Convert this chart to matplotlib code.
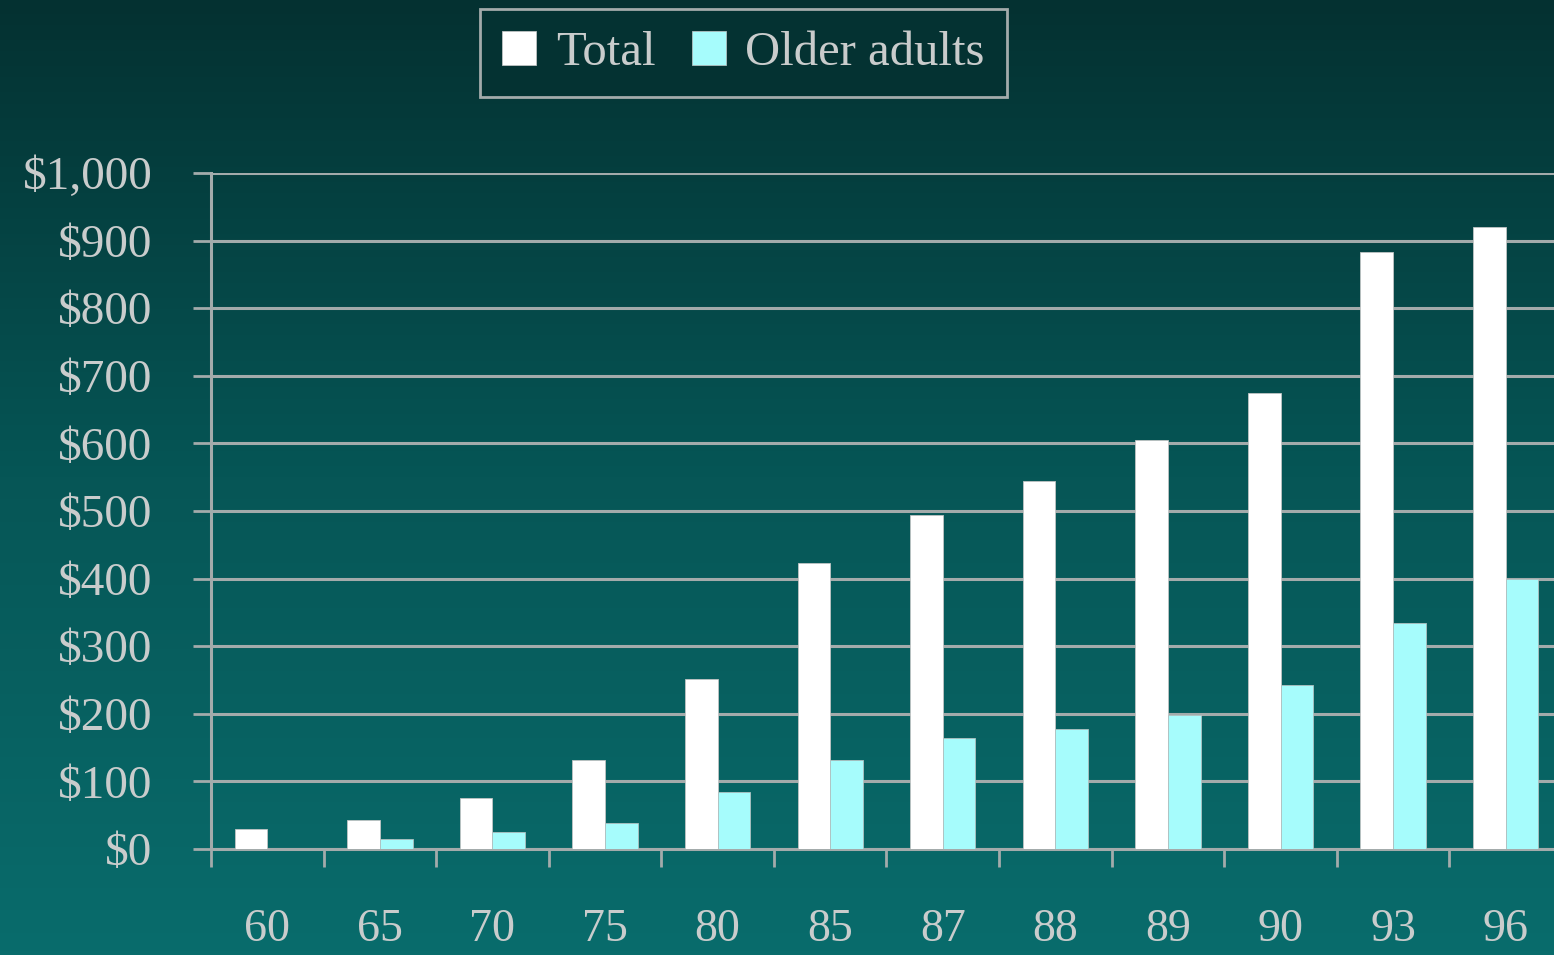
import matplotlib

matplotlib.use("Agg")
import matplotlib.pyplot as plt
import numpy as np
from matplotlib.colors import LinearSegmentedColormap
from matplotlib.ticker import FixedLocator

years = ["60", "65", "70", "75", "80", "85", "87", "88", "89", "90", "93", "96"]
total = [30, 43, 75, 132, 251, 423, 494, 544, 605, 675, 883, 920]
older_adults = [0, 15, 25, 38, 84, 132, 164, 178, 198, 243, 334, 400]
y_ticks = list(range(0, 1001, 100))

TOTAL_COLOR = "#ffffff"
OLDER_COLOR = "#a6fcfc"
GRID_COLOR = "#a3abab"
TEXT_COLOR = "#c9cccc"

plt.rcParams["font.family"] = ["Liberation Serif", "DejaVu Serif"]

fig = plt.figure(figsize=(15.54, 9.55), dpi=100)

# vertical teal gradient behind everything
bg = fig.add_axes((0, 0, 1, 1), zorder=-1)
cmap = LinearSegmentedColormap.from_list("bg", ["#043131", "#065656", "#096c6c"])
bg.imshow(np.linspace(0, 1, 256).reshape(-1, 1), aspect="auto", cmap=cmap,
          extent=(0, 1, 0, 1), origin="upper")
bg.set_axis_off()

ax = fig.add_axes((211 / 1554, 106 / 955, 1351 / 1554, 676 / 955))
ax.patch.set_alpha(0)

x = np.arange(len(years))
width = 0.29
ax.bar(x - width / 2, total, width, color=TOTAL_COLOR, edgecolor="#c0c4c4",
       linewidth=0.6, label="Total", zorder=3)
ax.bar(x + width / 2, older_adults, width, color=OLDER_COLOR, edgecolor="#b0c0c0",
       linewidth=0.6, label="Older adults", zorder=3)

ax.set_xlim(-0.5, len(years) - 0.5)
ax.set_ylim(0, 1000)

ax.set_yticks(y_ticks)
ax.set_yticklabels([f"${v:,}" for v in y_ticks])
ax.yaxis.grid(True, color=GRID_COLOR, linewidth=2.2, zorder=1)
ax.tick_params(axis="y", direction="out", length=13, width=2, color=GRID_COLOR,
               labelsize=34, labelcolor=TEXT_COLOR, pad=29)

# tick marks between groups, labels under group centres
ax.xaxis.set_major_locator(FixedLocator(np.arange(-0.5, len(years), 1.0)))
ax.xaxis.set_minor_locator(FixedLocator(x))
ax.set_xticklabels([], minor=False)
ax.set_xticklabels(years, minor=True)
ax.tick_params(axis="x", which="major", direction="out", length=13, width=2,
               color=GRID_COLOR)
ax.tick_params(axis="x", which="minor", length=0, labelsize=33,
               labelcolor=TEXT_COLOR, pad=43)

for side in ("top", "right"):
    ax.spines[side].set_visible(False)
for side in ("left", "bottom"):
    ax.spines[side].set_color(GRID_COLOR)
    ax.spines[side].set_linewidth(2.2)

leg = ax.legend(loc="center", bbox_to_anchor=(743.5 / 1554, 1 - 53 / 955),
                bbox_transform=fig.transFigure, ncol=2, fontsize=35,
                frameon=True, fancybox=False, handlelength=0.7, handleheight=0.7,
                handletextpad=0.4, columnspacing=0.75, borderpad=0.45,
                borderaxespad=0)
frame = leg.get_frame()
frame.set_facecolor("#043232")
frame.set_edgecolor(GRID_COLOR)
frame.set_linewidth(2)
frame.set_alpha(1)
for t in leg.get_texts():
    t.set_color(TEXT_COLOR)

fig.savefig("out.png", dpi=100)
